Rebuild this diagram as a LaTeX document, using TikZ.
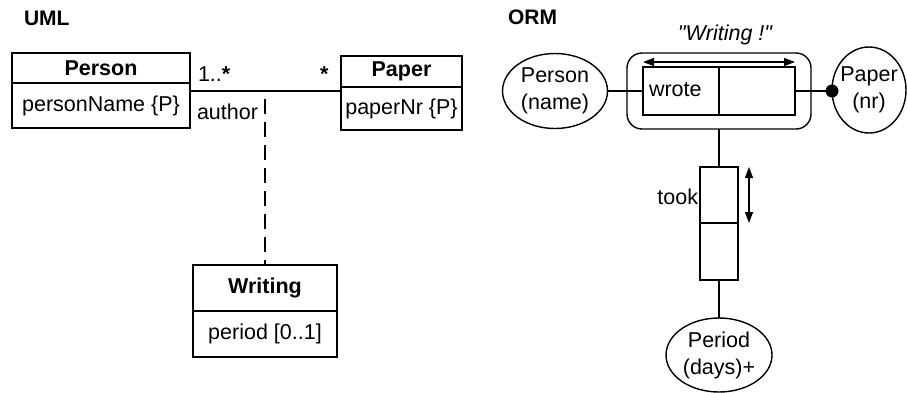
\documentclass[tikz,border=0pt]{standalone}
\usepackage{fontspec}
\setmainfont{Liberation Sans}[Ligatures=TeXOff]
\usetikzlibrary{shapes.geometric,arrows.meta}
\begin{document}
\begin{tikzpicture}[x=1pt,y=-1pt,
  every node/.style={inner sep=0pt,outer sep=0pt,font=\fontsize{21.5}{27}\selectfont},
  lw/.style={line width=1.4pt},
  cls/.style={draw,lw,minimum width=#1},
  hd/.style={font=\fontsize{21.5}{26}\selectfont\bfseries},
  ent/.style={draw,lw,ellipse},
  etext/.style={align=center},
  rolebox/.style={draw,lw,minimum width=76pt,minimum height=48pt},
  tookbox/.style={draw,lw,minimum width=38pt},
  tip/.style={{Triangle[length=11pt,width=8pt]}-{Triangle[length=11pt,width=8pt]}},
  title/.style={font=\fontsize{21}{24}\selectfont\bfseries,anchor=base west}]
\useasboundingbox (0,0) rectangle (907,392);
% titles
\node[title] (tuml) at (24,25) {UML};
\node[title] (torm) at (508,24) {ORM};
% UML classes
\node[cls=178pt,minimum height=30pt,hd] (pH) at (101,68) {Person};
\node[cls=178pt,minimum height=45pt] (pB) at (101,105.5) {personName \{P\}};
\node[cls=121pt,minimum height=31pt,hd] (qH) at (401.5,71.5) {Paper};
\node[cls=121pt,minimum height=43pt] (qB) at (401.5,108.5) {paperNr \{P\}};
\node[cls=144pt,minimum height=46pt,hd] (wH) at (265,288) {Writing};
\node[cls=144pt,minimum height=46pt] (wB) at (265,334) {period [0..1]};
\coordinate (aY) at (0,91);
\draw[lw] (pB.east |- aY) -- (qB.west |- aY);
\draw[lw,dash pattern=on 15pt off 8pt,dash phase=15pt] (wH.north |- aY) -- (wH.north);
\node[anchor=base west] (m1) at (198,81) {1..\textbf{*}};
\node[anchor=base west] (m2) at (320,81) {\textbf{*}};
\node[anchor=base west] (au) at (197,119) {author};
% ORM
\node[anchor=base] (wq) at (725,40) {\itshape "Writing !"};
\node[draw,lw,rounded corners=15pt,minimum width=184pt,minimum height=76pt] (rr) at (719,91) {};
\node[rolebox] (r1) at (681,91) {};
\node[rolebox] (r2) at (757,91) {};
\node[anchor=west] (wr) at ([xshift=6pt,yshift=1pt]r1.west) {wrote};
\draw[lw,tip] ([yshift=5pt]r1.north west) -- ([yshift=5pt]r2.north east);
\node[ent,minimum width=105pt,minimum height=75pt] (pe) at (555,91) {};
\node[etext] (pet) at (pe.center) {Person\\(name)};
\node[ent,minimum width=74pt,minimum height=86pt] (pa) at (869,90) {};
\node[etext] (pat) at (pa.center) {Paper\\(nr)};
\draw[lw] (pe.east |- r1.west) -- (r1.west);
\draw[lw] (r2.east) -- (pa.west |- r2.east);
\fill (pa.west |- r2.east) circle (6.5pt);
\node[tookbox,minimum height=56pt] (t1) at (719,195) {};
\node[tookbox,minimum height=57pt] (t2) at (719,251.5) {};
\draw[lw] (rr.south) -- (t1.north);
\node[anchor=east] (tk) at ([xshift=-2pt,yshift=-2pt]t1.west) {took};
\draw[lw,tip] ([xshift=11pt]t1.north east) -- ([xshift=11pt]t1.south east);
\node[ent,minimum width=106pt,minimum height=74pt] (pd) at (719,355) {};
\node[etext] (pdt) at (pd.center) {Period\\(days)+};
\draw[lw] (t2.south) -- (pd.north);
\end{tikzpicture}
\end{document}
